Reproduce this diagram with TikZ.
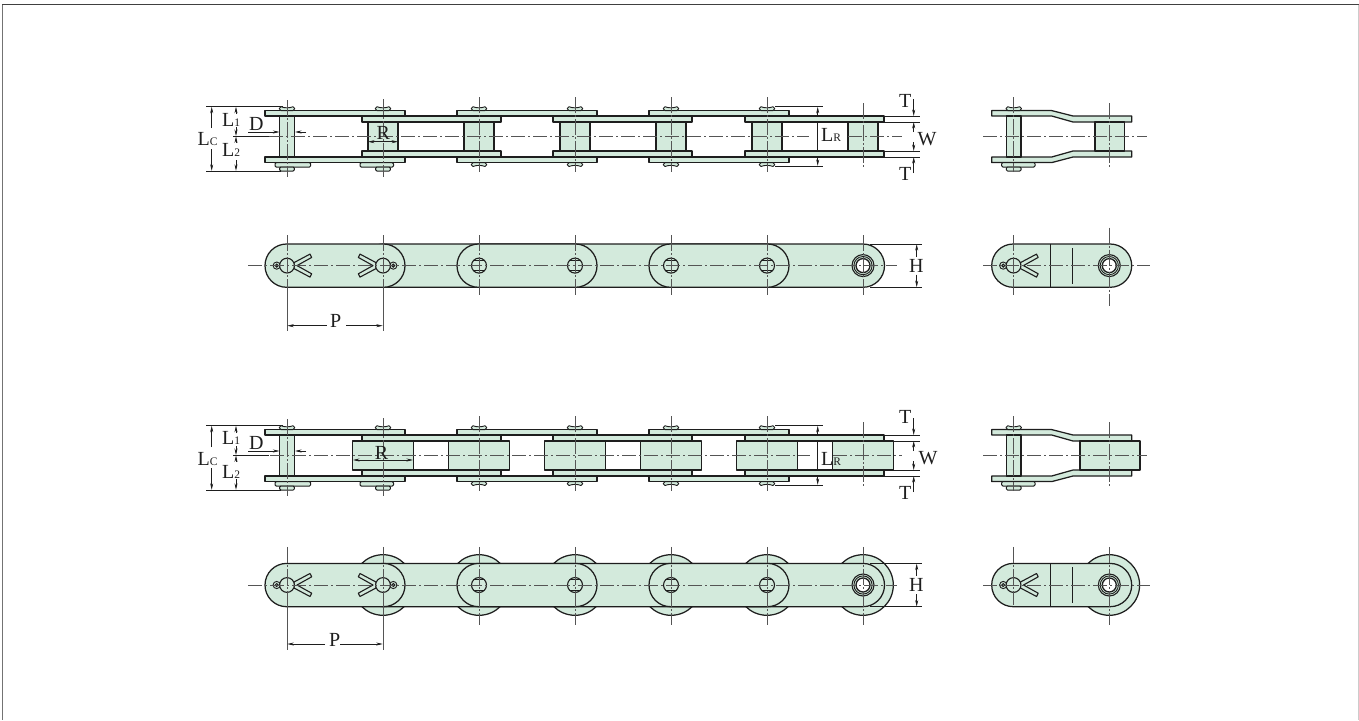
\documentclass[tikz,border=0pt]{standalone}
\usepackage{fontspec}
\setmainfont{Liberation Serif}
\usetikzlibrary{arrows.meta}
\definecolor{chain}{HTML}{D3EADC}
\definecolor{ink}{HTML}{1E1E1E}
\definecolor{cline}{HTML}{555555}
\tikzset{
  part/.style={draw=ink,fill=chain,line width=1.25pt,line join=round},
  thinpart/.style={draw=ink,line width=.8pt},
  cl/.style={draw=cline,line width=.7pt,dash pattern=on 14pt off 3pt on 2pt off 3pt},
  vcl/.style={draw=cline,line width=.7pt,dash pattern=on 16pt off 2pt on 2pt off 2pt},
  solidcl/.style={draw=cline,line width=.8pt},
  dimln/.style={draw=ink,line width=.6pt},
  dimarr/.style={draw=ink,line width=.6pt,-{Stealth[length=6.5pt,width=3pt]}},
  dimboth/.style={draw=ink,line width=.6pt,{Stealth[length=6.5pt,width=3pt]}-{Stealth[length=6.5pt,width=3pt]}},
  lab/.style={anchor=base west,inner sep=0pt,text=ink,font=\fontsize{20}{20}\selectfont},
}
\newcommand{\sublab}[2]{#1{\fontsize{11.5}{11.5}\selectfont #2}}
% rivet head seen from the side: #1 = x
\newcommand{\lenshead}[1]{%
  \draw[part,line width=.9pt] (#1-6,106.7) .. controls (#1-2.5,108.2) and (#1+2.5,108.2) .. (#1+6,106.7) -- (#1+7.8,108.6) -- (#1+6,110.6) -- (#1-6,110.6) -- (#1-7.8,108.6) -- cycle;
  \draw[part,line width=.9pt] (#1-6,166.5) .. controls (#1-2.5,165) and (#1+2.5,165) .. (#1+6,166.5) -- (#1+7.8,164.6) -- (#1+6,162.6) -- (#1-6,162.6) -- (#1-7.8,164.6) -- cycle;}
% spring clip and pin head: #1 pin x, #2 clip left, #3 clip right
\newcommand{\clipped}[3]{%
  \draw[part,line width=1pt,rounded corners=1.2pt] (#2,162.6) rectangle (#3,167);
  \draw[part,line width=1pt,rounded corners=1.2pt] (#1-7.4,167) rectangle (#1+7.4,171);}
% top view row: #1 vertical shift, #2 roller half width
\newcommand{\toprow}[2]{%
\begin{scope}[shift={(0,#1)}]
  \foreach \a/\b in {362/501,553/692,745/884}{
    \draw[part] (\a,116) rectangle (\b,122);
    \draw[part] (\a,151) rectangle (\b,157);}
  \foreach \x in {383,479,575,671,767,863}
    \draw[part] (\x-#2,122) rectangle (\x+#2,151);
  \foreach \a/\b in {265/405,457/597,649/789}{
    \draw[part] (\a,110.6) rectangle (\b,116);
    \draw[part] (\a,157) rectangle (\b,162.6);}
  \draw[part] (279.7,116) rectangle (294.7,157);
  \draw[part,line width=.9pt] (287-6,106.7) .. controls (287-2.5,108.2) and (287+2.5,108.2) .. (287+6,106.7) -- (287+7.8,108.6) -- (287+6,110.6) -- (287-6,110.6) -- (287-7.8,108.6) -- cycle;
  \draw[part,line width=.9pt] (383-6,106.7) .. controls (383-2.5,108.2) and (383+2.5,108.2) .. (383+6,106.7) -- (383+7.8,108.6) -- (383+6,110.6) -- (383-6,110.6) -- (383-7.8,108.6) -- cycle;
  \foreach \x in {479,575,671,767} {\lenshead{\x}}
  \clipped{287}{275}{310.7}
  \clipped{383}{360}{393.5}
  \foreach \x/\a/\b in {287/100/177,383/99/177,479/97/172,575/97/172,671/97/172,767/97/172,863/103/168}
    \draw[vcl] (\x,\a) -- (\x,\b);
\end{scope}}
% side view of the offset link: #1 shift, #2 roller left, #3 roller right
\newcommand{\sideview}[3]{%
\begin{scope}[shift={(0,#1)}]
  \draw[part] (991.7,110.6) -- (1051.7,110.6) -- (1073,116) -- (1131.7,116) -- (1131.7,122) -- (1073,122) -- (1051.7,116) -- (991.7,116) -- cycle;
  \draw[part] (991.7,162.6) -- (1051.7,162.6) -- (1073,157) -- (1131.7,157) -- (1131.7,151) -- (1073,151) -- (1051.7,157) -- (991.7,157) -- cycle;
  \draw[part] (#2,122) rectangle (#3,151);
  \draw[part] (1006.7,116) rectangle (1021,157);
  \draw[part,line width=.9pt] (1007.7,106.7) .. controls (1011,108.2) and (1016,108.2) .. (1019.7,106.7) -- (1021.5,108.6) -- (1019.7,110.6) -- (1007.7,110.6) -- (1005.9,108.6) -- cycle;
  \clipped{1013.7}{1001.7}{1035}
  \draw[cl] (983,136.3) -- (1147,136.3);
  \draw[vcl] (1013.7,97) -- (1013.7,172);
  \draw[vcl] (1109.3,103) -- (1109.3,168);
\end{scope}}
% cotter pin in plan: #1 x, #2 direction
\newcommand{\cotter}[2]{%
\begin{scope}[shift={(#1,265.6)},xscale=#2]
  \draw[part,line width=1.1pt] (7,-3) -- (23,-11.5) -- (24.7,-8.2) -- (10,0) -- (24.7,8.2) -- (23,11.5) -- (7,3) -- cycle;
  \draw[part,line width=.9pt] (-10.3,0) circle[radius=3.6];
  \draw[draw=ink,line width=1pt] (-10.3,0) circle[radius=1.5];
  \draw[part,line width=1.1pt] (0,0) circle[radius=7.4];
\end{scope}}
\newcommand{\bush}[1]{%
  \draw[part,line width=1.1pt] (#1,265.6) circle[radius=11];
  \draw[draw=ink,line width=.9pt] (#1,265.6) circle[radius=9.1];
  \draw[draw=ink,fill=white,line width=1.3pt] (#1,265.6) circle[radius=7];}
\newcommand{\flatpin}[1]{%
  \draw[part,line width=1.1pt] (#1,265.6) circle[radius=7.5];
  \draw[thinpart] (#1-5.3,260.4) -- (#1+5.3,260.4);
  \draw[draw=ink,line width=1.1pt] (#1-5.3,270.8) -- (#1+5.3,270.8);}
% plan row: #1 shift, #2 rollers (0/1), #3 centre top, #4 centre bottom, #5 bottom at right-view pin
\newcommand{\planrow}[5]{%
\begin{scope}[shift={(0,#1)}]
  \ifnum#2=1
    \foreach \x in {383,479,575,671,767,863}
      \draw[part] (\x,265.6) circle[radius=30.3];
    \draw[part] (1109.3,265.6) circle[radius=30.3];
  \fi
  \draw[part,rounded corners=21.6pt] (362,244) rectangle (884.5,287.3);
  \draw[part,rounded corners=21.6pt] (265,244) rectangle (405,287.3);
  \draw[part,rounded corners=21.6pt] (457,244) rectangle (597,287.3);
  \draw[part,rounded corners=21.6pt] (649,244) rectangle (789,287.3);
  \draw[part,rounded corners=21.6pt] (991.7,244) rectangle (1131.7,287.3);
  \draw[draw=ink,line width=1.1pt] (1050.7,244) -- (1050.7,287.3);
  \draw[draw=ink,line width=1.3pt] (1072.3,248) -- (1072.3,284);
  \cotter{287}{1}
  \cotter{383}{-1}
  \cotter{1013.5}{1}
  \foreach \x in {479,575,671,767} {\flatpin{\x}}
  \bush{863}
  \bush{1109.3}
  \draw[cl] (248,265.6) -- (897,265.6);
  \draw[cl] (983,265.6) -- (1150,265.6);
  \draw[vcl] (287,#3) -- (287,287.3);
  \draw[vcl] (383,#3) -- (383,287.3);
  \draw[solidcl] (287,287.3) -- (287,331);
  \draw[solidcl] (383,287.3) -- (383,331);
  \foreach \x in {479,575,671,767,863}
    \draw[vcl] (\x,#3) -- (\x,#4);
  \draw[vcl] (1013.5,#3) -- (1013.5,#5);
  \draw[vcl] (1109.3,227.5) -- (1109.3,305.5);
\end{scope}}
% dimensioning of a top view: #1 shift
\newcommand{\topdims}[1]{%
\begin{scope}[shift={(0,#1)}]
  \draw[dimln] (206,106.6) -- (283,106.6);
  \draw[dimln] (206,171) -- (281,171);
  \draw[dimarr] (211.7,128) -- (211.7,106.8);
  \draw[dimarr] (211.7,149) -- (211.7,170.8);
  \draw[dimarr] (236,114) -- (236,106.8);
  \draw[dimarr] (236,127) -- (236,136);
  \draw[dimarr] (236,143) -- (236,136.4);
  \draw[dimarr] (236,160) -- (236,170.8);
  \draw[dimln,line width=.8pt] (233,136.3) -- (269,136.3);
  \draw[dimln] (775,106.7) -- (823,106.7);
  \draw[dimln] (775,166) -- (823,166);
  \draw[dimboth] (817.7,106.9) -- (817.7,165.8);
  \foreach \y in {116,122,151,157}
    \draw[dimln] (884,\y) -- (920,\y);
  \draw[dimarr] (913.7,99) -- (913.7,116);
  \draw[dimarr] (913.7,132) -- (913.7,122);
  \draw[dimarr] (913.7,142) -- (913.7,151);
  \draw[dimarr] (913.7,173) -- (913.7,157);
\end{scope}}
\begin{document}
\begin{tikzpicture}[x=1pt,y=-1pt]
\useasboundingbox (0,0) rectangle (1359,720);
\draw[draw=black!75,line width=1pt] (2.3,4.5) -- (1359,4.5);
\draw[draw=black!55,line width=1.5pt] (2.3,4.5) -- (2.3,720);
\draw[draw=black!20,line width=.8pt] (1358.6,4.5) -- (1358.6,720);
% ---- upper chain, top view
\topdims{0}
\toprow{0}{15}
\sideview{0}{1095}{1124.5}
\draw[cl] (269,136.3) -- (809,136.3);
\draw[cl] (848,136.3) -- (902,136.3);
\draw[dimarr] (248,132) -- (279.5,132);
\draw[dimarr] (306,132) -- (295,132);
\draw[dimboth] (368,141.7) -- (398,141.7);
\node[lab] (lc1) at (197.5,145) {\sublab{L}{C}};
\node[lab] (l11) at (222,126) {\sublab{L}{1}};
\node[lab] (l21) at (222,156.7) {\sublab{L}{2}};
\node[lab] (d1) at (249,130.7) {D};
\node[lab] (r1) at (376.5,139.3) {R};
\node[lab] (lr1) at (821,141.7) {\sublab{L}{R}};
\node[lab] (t1a) at (899,107.3) {T};
\node[lab] (t1b) at (899,180) {T};
\node[lab] (w1) at (917.5,145) {W};
% ---- upper chain, plan
\planrow{0}{0}{235}{295}{295}
\draw[dimln] (870,244) -- (922,244);
\draw[dimln] (870,287.3) -- (922,287.3);
\draw[dimarr] (916.7,257) -- (916.7,244.2);
\draw[dimarr] (916.7,274.5) -- (916.7,287.1);
\node[lab] (h1) at (909,272.7) {H};
\draw[dimarr] (326.7,325.7) -- (287.3,325.7);
\draw[dimarr] (346,325.7) -- (382.7,325.7);
\node[lab] (p1) at (330,327.7) {P};
% ---- lower chain, top view
\topdims{319}
\toprow{319}{30.2}
\sideview{319}{1080}{1140}
\draw[cl] (270,455.3) -- (810,455.3);
\draw[cl] (833,455.3) -- (902,455.3);
\draw[dimarr] (248,451) -- (279.5,451);
\draw[dimarr] (306,451) -- (295,451);
\draw[dimboth] (353,460) -- (413,460);
\node[lab] (lc2) at (197.5,465) {\sublab{L}{C}};
\node[lab] (l12) at (222,444.3) {\sublab{L}{1}};
\node[lab] (l22) at (222,478) {\sublab{L}{2}};
\node[lab] (d2) at (249,449.3) {D};
\node[lab] (r2) at (374.7,459) {R};
\node[lab] (lr2) at (821,465) {\sublab{L}{R}};
\node[lab] (t2a) at (899,423.3) {T};
\node[lab] (t2b) at (899,499.3) {T};
\node[lab] (w2) at (918.5,464.3) {W};
% ---- lower chain, plan
\planrow{319.4}{1}{227.5}{305.5}{285.5}
\draw[dimln] (870,563.4) -- (922,563.4);
\draw[dimln] (870,606.7) -- (922,606.7);
\draw[dimarr] (916.7,576) -- (916.7,563.6);
\draw[dimarr] (916.7,594) -- (916.7,606.5);
\node[lab] (h2) at (909,591.7) {H};
\draw[dimarr] (325,644) -- (287.3,644);
\draw[dimarr] (340,644) -- (382.7,644);
\node[lab] (p2) at (329,646.7) {P};
\end{tikzpicture}
\end{document}
